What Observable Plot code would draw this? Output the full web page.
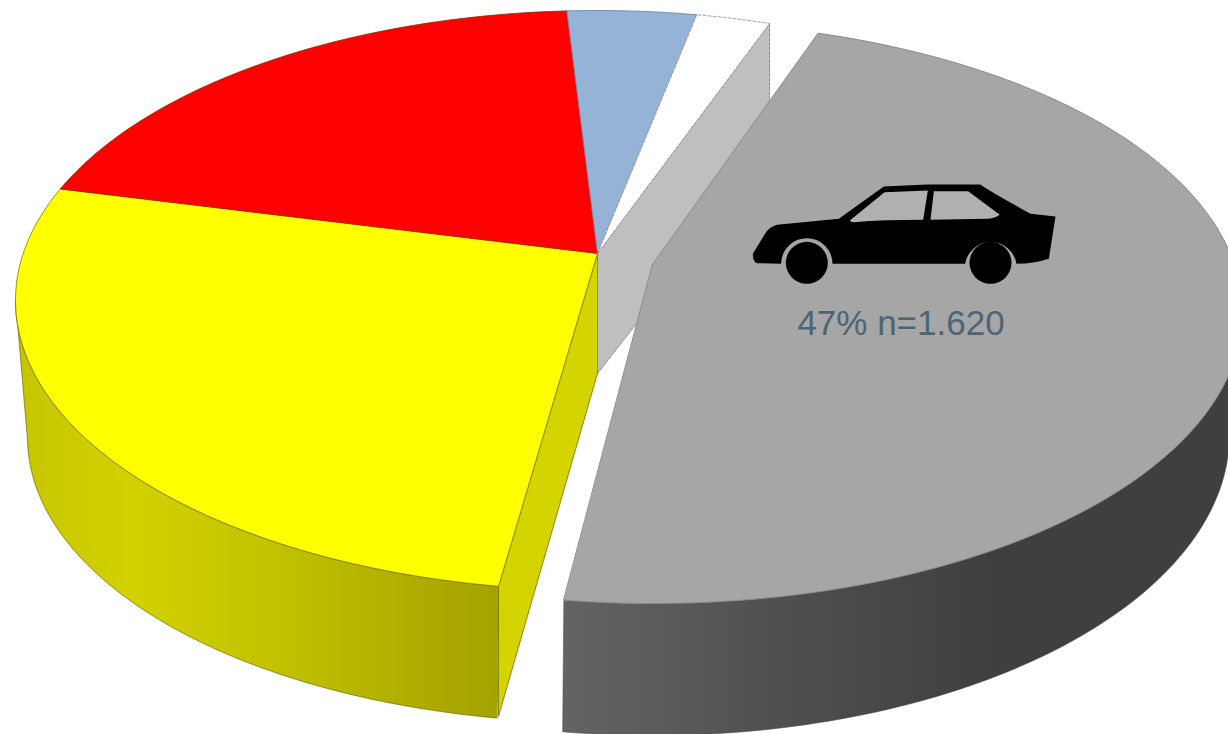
<!DOCTYPE html>
<html>
<head>
<meta charset="utf-8">
<script src="https://cdn.jsdelivr.net/npm/d3@7"></script>
<script src="https://cdn.jsdelivr.net/npm/@observablehq/plot@0.6"></script>
<style>
html,body{margin:0;padding:0;background:#fff;overflow:hidden}
svg{display:block}
</style>
</head>
<body>
<div id="chart"></div>
<script>
// Data
const categories = ["car", "yellow", "red", "blue", "white"];
const shares = [46.7, 26.5, 20.2, 4.2, 2.4];
const topColors = ["#a6a6a6", "#ffff00", "#ff0000", "#95b3d7", "#ffffff"];
const edgeColors = ["#8a8a8a", "#7d7a00", "#8a2a00", "#66809f", "#8a8a8a"];
const exploded = ["car"];
const labelText = "47% n=1.620";

// Projection of the tilted disc
const W = 1228, H = 734;
const startAngle = 20.2, explodeTurn = -1;
const mainTop = {cx: 597, cy: 300, rx: 582, ry: 290, e: 0.162};
const mainLow = {cx: 597, cy: 437, rx: 570, ry: 285, e: 0.2};
const carTop = {cx: 652, cy: 312, rx: 590, ry: 291, e: 0.165};
const carLow = {cx: 652, cy: 434, rx: 577, ry: 301, e: 0.2};
const apexDepth = 120, rimDepth = 130;

const rad = d => d * Math.PI / 180;
function rim(el, deg) {
  const u = Math.sin(rad(deg)), v = Math.cos(rad(deg)), d = 1 + el.e * v;
  return {
    x: el.cx + el.rx * u * Math.sqrt(1 - el.e * el.e) / d,
    y: el.cy - el.ry * (v + el.e) / d
  };
}
const apex = el => ({x: el.cx, y: el.cy - el.ry * el.e});
function arc(el, a0, a1) {
  const n = Math.max(2, Math.ceil(Math.abs(a1 - a0)));
  return d3.range(n + 1).map(i => rim(el, a0 + (a1 - a0) * i / n));
}

// Slice angles from the shares
const total = d3.sum(shares);
const cum = d3.cumsum(shares);
const slices = categories.map((name, i) => {
  const out = exploded.includes(name);
  const turn = out ? explodeTurn : 0;
  return {
    name, out,
    a0: startAngle + turn + (cum[i] - shares[i]) / total * 360,
    a1: startAngle + turn + cum[i] / total * 360,
    fill: topColors[i],
    edge: edgeColors[i]
  };
});
const car = slices[0], yellow = slices[1];
const yellowWallTop = 261, yellowWallLow = 258, carWallTop = 99.5, carWallLow = 101.5;

const poly = (pts, o) => Plot.line(pts, {x: "x", y: "y", curve: "linear-closed", strokeLinejoin: "round", ...o});
const slicePts = s => {
  const el = s.out ? carTop : mainTop;
  return [apex(el), ...arc(el, s.a0, s.a1)];
};
const down = (p, d) => ({x: p.x, y: p.y + d});

// Faces
const yellowWall = [...arc(mainTop, yellow.a0, yellowWallTop), ...arc(mainLow, yellowWallLow, yellow.a0)];
const carWall = [...arc(carTop, carWallTop, car.a1), ...arc(carLow, car.a1, carWallLow)];
const mApex = apex(mainTop);
const yRim = rim(mainTop, yellow.a0);
const yellowCut = [mApex, yRim, down(yRim, rimDepth), down(mApex, apexDepth)];
const gRim = rim(mainTop, startAngle);
const innerCut = [mApex, gRim, down(gRim, rimDepth), down(mApex, apexDepth)];

// Gradients for the shaded outer walls
function gradient(id, x1, x2, stops) {
  const g = d3.create("svg:linearGradient").attr("id", id)
    .attr("gradientUnits", "userSpaceOnUse")
    .attr("x1", x1).attr("x2", x2).attr("y1", 0).attr("y2", 0);
  stops.forEach(([o, c]) => g.append("stop").attr("offset", o).attr("stop-color", c));
  return g.node();
}
const defs = () => {
  const d = d3.create("svg:defs");
  d.node().append(gradient("yw", 20, 500, [[0, "#c6c600"], [0.23, "#d2d200"], [0.58, "#bfbf00"], [0.8, "#b0ae00"], [1, "#a4a200"]]));
  d.node().append(gradient("gw", 562, 1228, [[0, "#646464"], [0.35, "#4e4e4e"], [0.65, "#3f3f3f"], [1, "#3f3f3f"]]));
  return d.node();
};

// Car pictogram
const carSvg = `<svg xmlns="http://www.w3.org/2000/svg" viewBox="0 0 990 360" width="330" height="120">
<path fill="#000" d="M37 250 L78 183 Q88 170 110 163 L295 145 L430 48 L560 42 L720 42 Q735 55 870 130 L945 138 L925 265 Q880 280 828 280 A78 78 0 0 0 674 280 L276 280 A77 77 0 0 0 122 280 L50 278 Q37 275 37 250Z"/>
<path fill="#b0b0b0" d="M328 150 L432 65 L562 60 L548 148 Q430 148 340 155 Q330 155 328 150Z"/>
<path fill="#b0b0b0" d="M580 62 L683 62 L778 133 Q760 145 740 145 L570 148Z"/>
<circle cx="199" cy="277" r="63" fill="#000"/><circle cx="750" cy="277" r="63" fill="#000"/>
</svg>`;
const carSrc = "data:image/svg+xml;utf8," + encodeURIComponent(carSvg);

const chart = Plot.plot({
  width: W, height: H,
  margin: 0,
  x: {domain: [0, W], range: [0, W], axis: null},
  y: {domain: [0, H], range: [0, H], axis: null},
  style: {background: "#fff"},
  marks: [
    defs,
    poly(yellowWall, {fill: "url(#yw)", stroke: "#6f6c00", strokeWidth: 0.7}),
    poly(yellowCut, {fill: "#d4d400", stroke: "#6f6c00", strokeWidth: 0.8}),
    poly(innerCut, {fill: "#bfbfbf", stroke: "#777", strokeWidth: 0.8, strokeDasharray: "3 1.5"}),
    ...slices.filter(s => !s.out).map(s => poly(slicePts(s), {
      fill: s.fill, stroke: s.edge, strokeWidth: 0.8,
      strokeDasharray: s.name === "white" ? "3 2" : null
    })),
    poly(carWall, {fill: "url(#gw)", stroke: "#444", strokeWidth: 0.5}),
    poly(slicePts(car), {fill: car.fill, stroke: car.edge, strokeWidth: 1}),
    Plot.image([{x: 905, y: 230}], {x: "x", y: "y", width: 330, height: 120, src: () => carSrc}),
    Plot.text([labelText], {
      x: () => 900.5, y: () => 323.5, text: d => d,
      fill: "#4d6573", fontSize: 35, fontFamily: "Liberation Sans, Arial, sans-serif",
      textAnchor: "middle"
    })
  ]
});
document.getElementById("chart").append(chart);
</script>
</body>
</html>
